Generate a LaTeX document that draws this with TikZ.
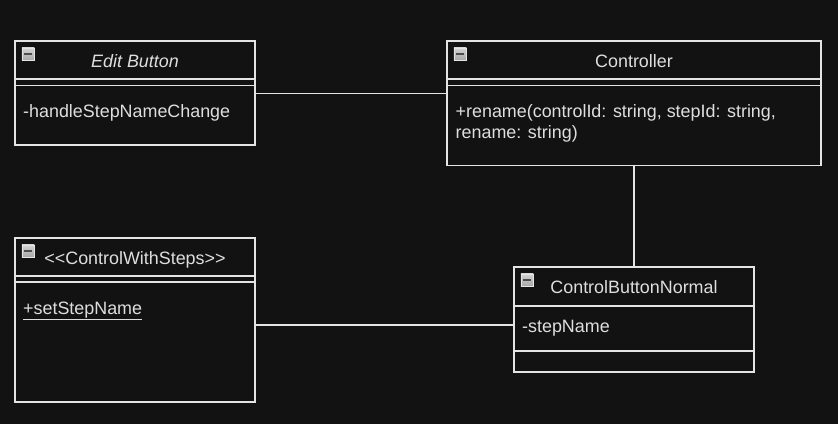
\documentclass[tikz,border=0pt]{standalone}
\usepackage{fontspec}
\setmainfont{Liberation Sans}
\usepackage{tikz}
\usetikzlibrary{positioning,calc}
\definecolor{bgdark}{RGB}{18,18,18}
\definecolor{umlline}{RGB}{228,228,228}
\definecolor{umltext}{RGB}{222,222,222}

\begin{document}
\begin{tikzpicture}[
      x=1pt, y=-1pt,
      every node/.style={font=\fontsize{17.9}{21}\selectfont, text=umltext, anchor=center},
      umlhead/.style={draw=umlline, line width=1.3pt, fill=bgdark, outer sep=0pt, inner sep=0pt,
                      minimum height=38pt, text height=14pt, text depth=0pt},
      umlpart/.style={draw=umlline, line width=1.3pt, fill=bgdark, outer sep=0pt, inner sep=0pt},
      member/.style={inner sep=0pt, align=left, anchor=base west},
      toggle/.style={draw=gray!20, top color=gray!35, bottom color=gray!70, line width=0.9pt,
                     minimum size=12.5pt, inner sep=0pt,
                     path picture={\draw[line width=2.4pt, black!70]
                       ([xshift=2pt]path picture bounding box.west) --
                       ([xshift=-2pt]path picture bounding box.east);}},
      assoc/.style={draw=umlline, line width=1.3pt}
    ]
  \fill[bgdark] (0,0) rectangle (838,424);
  \useasboundingbox (0,0) rectangle (838,424);

  % --- Klasse: Edit Button ---
  \node (EditHead) [umlhead, minimum width=240pt] at (135,60) {\itshape Edit Button};
  \node (EditSep)  [umlpart, minimum width=240pt, minimum height=6.5pt, below=0pt of EditHead] {};
  \node (EditOps)  [umlpart, minimum width=240pt, minimum height=59.5pt, below=0pt of EditSep] {};
  \node (EditIcon) [toggle, below right=6.5pt and 6.5pt of EditHead.north west] {};
  \node (EditOp)   [member] at ($(EditOps.north west)+(8,32)$) {-handleStepNameChange};

  % --- Klasse: Controller ---
  \node (CtrlHead) [umlhead, minimum width=374pt] at (634,60) {Controller};
  \node (CtrlSep)  [umlpart, minimum width=374pt, minimum height=6.5pt, below=0pt of CtrlHead] {};
  \node (CtrlOps)  [umlpart, minimum width=374pt, minimum height=80.3pt, below=0pt of CtrlSep] {};
  \node (CtrlIcon) [toggle, below right=6.5pt and 6.5pt of CtrlHead.north west] {};
  % Grundlinie = letzte Zeile
  \node (CtrlOp)   [member] at ($(CtrlOps.north west)+(8.5,53.3)$)
    {+rename(controlId: string, stepId: string,\\ rename: string)};

  % --- Klasse: <<ControlWithSteps>> ---
  \node (CwsHead) [umlhead, minimum width=240pt] at (135,257) {<{}<ControlWithSteps>{}>};
  \node (CwsSep)  [umlpart, minimum width=240pt, minimum height=6pt, below=0pt of CwsHead] {};
  \node (CwsOps)  [umlpart, minimum width=240pt, minimum height=120pt, below=0pt of CwsSep] {};
  \node (CwsIcon) [toggle, below right=6.5pt and 6.5pt of CwsHead.north west] {};
  \node (CwsOp)   [member] at ($(CwsOps.north west)+(8,32.5)$) {\underline{+setStepName}};

  % --- Klasse: ControlButtonNormal ---
  \node (CbnHead) [umlhead, minimum width=240pt, minimum height=39pt] at (634,286.5) {ControlButtonNormal};
  \node (CbnAttr) [umlpart, minimum width=240pt, minimum height=45pt, below=0pt of CbnHead] {};
  \node (CbnOps)  [umlpart, minimum width=240pt, minimum height=21pt, below=0pt of CbnAttr] {};
  \node (CbnIcon) [toggle, below right=6.5pt and 6.5pt of CbnHead.north west] {};
  \node (CbnAt)   [member] at ($(CbnAttr.north west)+(8,26.5)$) {-stepName};

  % --- Assoziationen ---
  \draw[assoc] ([yshift=-8pt]CtrlOps.north west -| EditOps.east) -- ([yshift=-8pt]CtrlOps.north west);
  \draw[assoc] (CtrlOps.south) -- (CbnHead.north);
  \draw[assoc] ([yshift=3.5pt]CbnAttr.west -| CwsOps.east) -- ([yshift=3.5pt]CbnAttr.west);
\end{tikzpicture}
\end{document}
